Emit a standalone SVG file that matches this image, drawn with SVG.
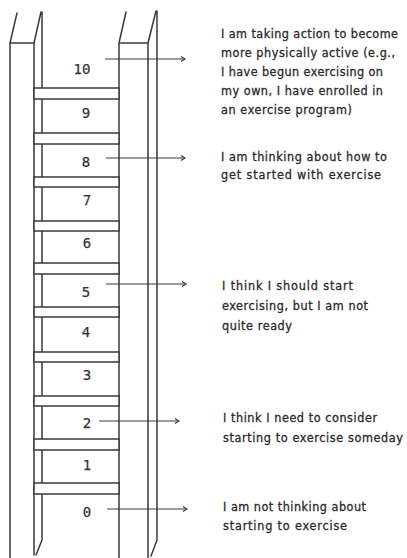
<svg xmlns="http://www.w3.org/2000/svg" width="407" height="558" viewBox="0 0 407 558">
<style>
.ln{fill:none;stroke:#3a3a3a;stroke-width:1.5;stroke-linecap:round;stroke-linejoin:round}
.rung{fill:#fff;stroke:#3a3a3a;stroke-width:1.5}
.num{font-family:"DejaVu Sans Mono","Liberation Mono",monospace;font-size:14px;fill:#333;stroke:#333;stroke-width:0.25;text-anchor:middle}
.txt{font-family:"DejaVu Sans Condensed","DejaVu Sans","Liberation Sans",sans-serif;font-size:12.5px;fill:#2b2b2b;stroke:#2b2b2b;stroke-width:0.3}
.arr{fill:none;stroke:#3a3a3a;stroke-width:1.2}
</style>
<defs>
<marker id="ah" markerUnits="userSpaceOnUse" markerWidth="8" markerHeight="8" refX="5" refY="3" orient="auto">
<path d="M1,0.5 L5,3 L1,5.5" fill="none" stroke="#3a3a3a" stroke-width="1.1"/>
</marker>
</defs>
<rect width="407" height="558" fill="#fff"/>
<g id="ladder">
<path class="ln" d="M10,558 L10,43 L17,13 M10,43 L34,43 L41,12 M34,43 L34,555 M42,12 L42,540 L36,555"/>
<path class="ln" d="M119,558 L119,43 L126,12 M119,43 L148,43 L156,11 M148,43 L148,558 M157,11 L157,540 L151,556"/>
<rect class="rung" x="34" y="88" width="85" height="11"/>
<rect class="rung" x="34" y="133" width="85" height="11"/>
<rect class="rung" x="34" y="177" width="85" height="10"/>
<rect class="rung" x="34" y="221" width="85" height="10"/>
<rect class="rung" x="34" y="263" width="85" height="11"/>
<rect class="rung" x="34" y="307" width="85" height="10"/>
<rect class="rung" x="34" y="352" width="85" height="10"/>
<rect class="rung" x="34" y="396" width="85" height="10"/>
<rect class="rung" x="34" y="439" width="85" height="11"/>
<rect class="rung" x="34" y="483" width="85" height="11"/>
</g>
<g id="level10"><text class="num" x="82" y="74">10</text></g>
<g id="level9"><text class="num" x="86" y="118">9</text></g>
<g id="level8"><text class="num" x="86" y="167">8</text></g>
<g id="level7"><text class="num" x="87" y="205">7</text></g>
<g id="level6"><text class="num" x="87" y="248">6</text></g>
<g id="level5"><text class="num" x="86" y="297">5</text></g>
<g id="level4"><text class="num" x="86" y="337">4</text></g>
<g id="level3"><text class="num" x="87" y="380">3</text></g>
<g id="level2"><text class="num" x="87" y="428">2</text></g>
<g id="level1"><text class="num" x="87" y="470">1</text></g>
<g id="level0"><text class="num" x="87" y="517">0</text></g>
<g id="desc10" class="txt">
<text x="221" y="38" textLength="177">I am taking action to become</text>
<text x="221" y="57" textLength="174">more physically active (e.g.,</text>
<text x="221" y="76" textLength="162">I have begun exercising on</text>
<text x="221" y="95" textLength="162">my own, I have enrolled in</text>
<text x="221" y="114" textLength="131">an exercise program)</text>
</g>
<g id="desc8" class="txt">
<text x="221" y="161" textLength="166">I am thinking about how to</text>
<text x="221" y="179" textLength="160">get started with exercise</text>
</g>
<g id="desc5" class="txt">
<text x="222" y="290" textLength="131">I think I should start</text>
<text x="222" y="310" textLength="146">exercising, but I am not</text>
<text x="222" y="330" textLength="70">quite ready</text>
</g>
<g id="desc2" class="txt">
<text x="223" y="422" textLength="154">I think I need to consider</text>
<text x="223" y="442" textLength="180">starting to exercise someday</text>
</g>
<g id="desc0" class="txt">
<text x="223" y="511" textLength="143">I am not thinking about</text>
<text x="223" y="530" textLength="124">starting to exercise</text>
</g>
<g id="connectors">
<line class="arr" x1="105" y1="59" x2="185" y2="59" marker-end="url(#ah)"/>
<line class="arr" x1="106" y1="158" x2="185" y2="158" marker-end="url(#ah)"/>
<line class="arr" x1="106" y1="284" x2="186" y2="284" marker-end="url(#ah)"/>
<line class="arr" x1="99" y1="421" x2="179" y2="421" marker-end="url(#ah)"/>
<line class="arr" x1="107" y1="509" x2="187" y2="509" marker-end="url(#ah)"/>
</g>
</svg>
